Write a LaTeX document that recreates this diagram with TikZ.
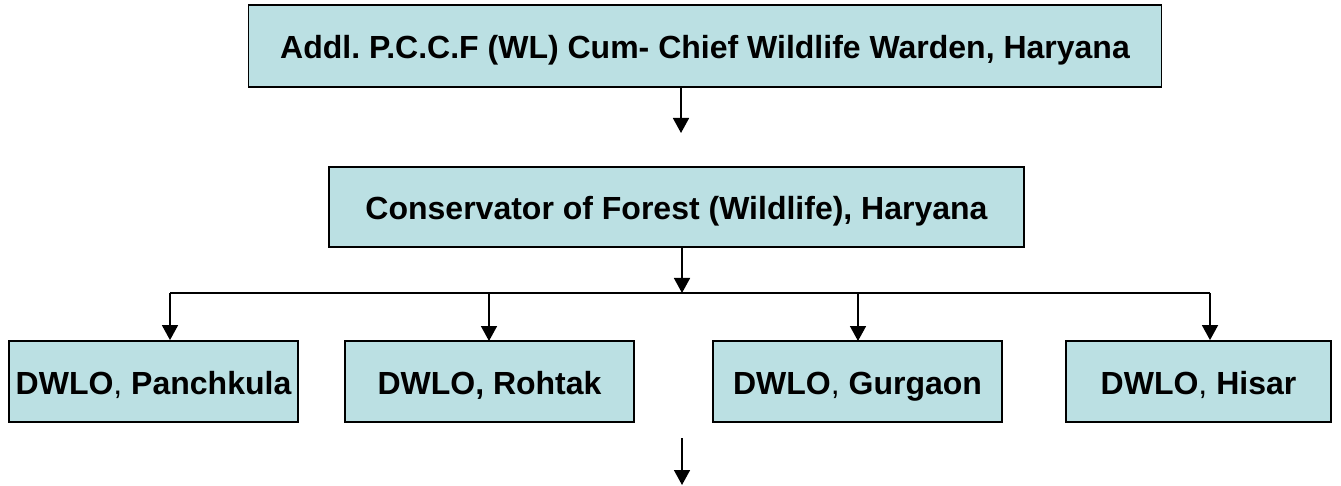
\documentclass[tikz,border=0pt]{standalone}
\usepackage{fontspec}
\setmainfont{Liberation Sans}
\usetikzlibrary{arrows.meta}
\definecolor{boxfill}{HTML}{BBE0E3}
\frenchspacing
\begin{document}
\begin{tikzpicture}[x=1pt,y=-1pt,
  orgbox/.style={draw=black,line width=1.8pt,fill=boxfill,inner sep=0pt,text height=26pt,text depth=0pt,font=\fontsize{32}{36}\selectfont\bfseries},
  conn/.style={line width=1.6pt,-{Triangle[length=15pt,width=16pt]}},
  plain/.style={line width=1.6pt}]
\useasboundingbox (0,0) rectangle (1341,486);
\node[orgbox,minimum width=913pt,minimum height=82pt] (top) at (705,46) {Addl. P.C.C.F (WL) Cum- Chief Wildlife Warden, Haryana};
\node[orgbox,minimum width=695pt,minimum height=80pt] (cf) at (676.5,207) {Conservator of Forest (Wildlife), Haryana};
\node[orgbox,minimum width=289pt,minimum height=81pt] (pan) at (153.5,381.5) {DWLO{\mdseries,} Panchkula};
\node[orgbox,minimum width=289pt,minimum height=81pt] (roh) at (489.5,381.5) {DWLO, Rohtak};
\node[orgbox,minimum width=289pt,minimum height=81pt] (gur) at (857.5,381.5) {DWLO{\mdseries,} Gurgaon};
\node[orgbox,minimum width=265pt,minimum height=81pt] (his) at (1198.5,381.5) {DWLO{\mdseries,} Hisar};
\coordinate (t1) at (681,87);
\coordinate (t2) at (681,133);
\draw[conn] (t1) -- (t2);
\coordinate (hub) at (682,293);
\draw[conn] (cf.south -| hub) -- (hub);
\coordinate (hl) at (170,293);
\coordinate (hr) at (1210,293);
\draw[plain] (hl) -- (hr);
\draw[conn] (hl) -- (hl |- pan.north);
\draw[conn] (489,293) -- (489,341);
\draw[conn] (858,293) -- (858,341);
\draw[conn] (hr) -- (hr |- his.north);
\coordinate (b1) at (682,438);
\coordinate (b2) at (682,485);
\draw[conn] (b1) -- (b2);
\end{tikzpicture}
\end{document}
